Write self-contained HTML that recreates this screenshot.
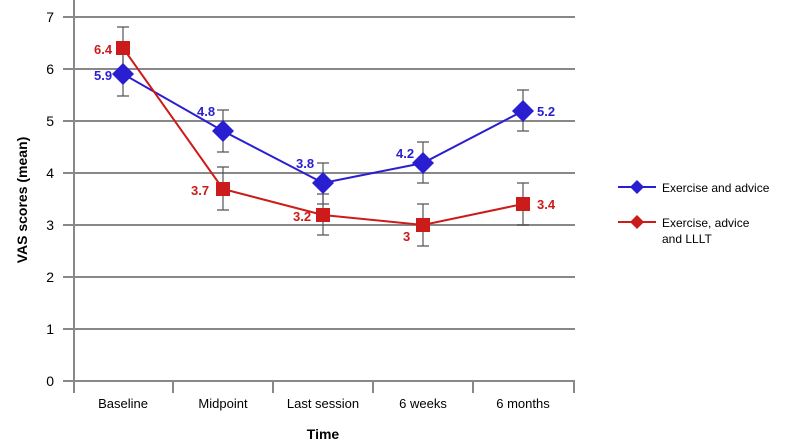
<!DOCTYPE html>
<html><head><style>body{margin:0;background:#fff}svg{display:block;font-family:"Liberation Sans",sans-serif}</style></head><body>
<svg width="788" height="447" viewBox="0 0 788 447" xmlns="http://www.w3.org/2000/svg">
<g stroke="#888" stroke-width="2">
<line x1="63" y1="17" x2="575" y2="17"/><line x1="63" y1="69" x2="575" y2="69"/><line x1="63" y1="121" x2="575" y2="121"/><line x1="63" y1="173" x2="575" y2="173"/><line x1="63" y1="225" x2="575" y2="225"/><line x1="63" y1="277" x2="575" y2="277"/><line x1="63" y1="329" x2="575" y2="329"/><line x1="63" y1="381" x2="575" y2="381"/>
<line x1="74" y1="0" x2="74" y2="393"/>
<line x1="173" y1="381" x2="173" y2="393"/><line x1="273" y1="381" x2="273" y2="393"/><line x1="373" y1="381" x2="373" y2="393"/><line x1="473" y1="381" x2="473" y2="393"/><line x1="574" y1="381" x2="574" y2="393"/>
</g>
<g font-size="14" fill="#000" text-anchor="end">
<text x="54" y="22">7</text><text x="54" y="74">6</text><text x="54" y="126">5</text><text x="54" y="178">4</text><text x="54" y="230">3</text><text x="54" y="282">2</text><text x="54" y="334">1</text><text x="54" y="386">0</text>
</g>
<g font-size="13" text-anchor="middle">
<text x="123" y="408">Baseline</text><text x="223" y="408">Midpoint</text><text x="323" y="408">Last session</text><text x="423" y="408">6 weeks</text><text x="523" y="408">6 months</text>
</g>
<text x="323" y="439" font-size="14" font-weight="bold" text-anchor="middle">Time</text>
<text transform="translate(27,200) rotate(-90)" font-size="14" font-weight="bold" text-anchor="middle">VAS scores (mean)</text>
<g stroke="#555" stroke-width="1.2" fill="none">
<path d="M123 48V96M117 48h12M117 96h12"/>
<path d="M123 27V75M117 27h12M117 75h12"/>
<path d="M223 110V152M217 110h12M217 152h12"/>
<path d="M223 167V210M217 167h12M217 210h12"/>
<path d="M323 163V204M317 163h12M317 204h12"/>
<path d="M323 194V235M317 194h12M317 235h12"/>
<path d="M423 142V183M417 142h12M417 183h12"/>
<path d="M423 204V246M417 204h12M417 246h12"/>
<path d="M523 90V131M517 90h12M517 131h12"/>
<path d="M523 183V225M517 183h12M517 225h12"/>
</g>
<polyline points="123,74 223,131 323,183 423,163 523,111" fill="none" stroke="#2a1fd0" stroke-width="2"/>
<polyline points="123,48 223,189 323,215 423,225 523,204" fill="none" stroke="#cc1b1b" stroke-width="2"/>
<g fill="#2a1fd0">
<path d="M123 63l11 11-11 11-11-11z"/><path d="M223 120l11 11-11 11-11-11z"/><path d="M323 172l11 11-11 11-11-11z"/><path d="M423 152l11 11-11 11-11-11z"/><path d="M523 100l11 11-11 11-11-11z"/>
</g>
<g fill="#cc1b1b">
<rect x="116" y="41" width="14" height="14"/><rect x="216" y="182" width="14" height="14"/><rect x="316" y="208" width="14" height="14"/><rect x="416" y="218" width="14" height="14"/><rect x="516" y="197" width="14" height="14"/>
</g>
<g font-size="13" font-weight="bold" fill="#2a1fd0">
<text x="94" y="80">5.9</text><text x="197" y="116">4.8</text><text x="296" y="168">3.8</text><text x="396" y="158">4.2</text><text x="537" y="116">5.2</text>
</g>
<g font-size="13" font-weight="bold" fill="#cc1b1b">
<text x="94" y="54">6.4</text><text x="191" y="195">3.7</text><text x="293" y="221">3.2</text><text x="403" y="241">3</text><text x="537" y="209">3.4</text>
</g>
<line x1="618" y1="187" x2="656" y2="187" stroke="#2a1fd0" stroke-width="2"/>
<path d="M637 180l7 7-7 7-7-7z" fill="#2a1fd0"/>
<text x="662" y="192" font-size="12">Exercise and advice</text>
<line x1="618" y1="222" x2="656" y2="222" stroke="#cc1b1b" stroke-width="2"/>
<path d="M637 215l7 7-7 7-7-7z" fill="#cc1b1b"/>
<text x="662" y="227" font-size="12">Exercise, advice</text>
<text x="662" y="243" font-size="12">and LLLT</text>
</svg>
</body></html>
